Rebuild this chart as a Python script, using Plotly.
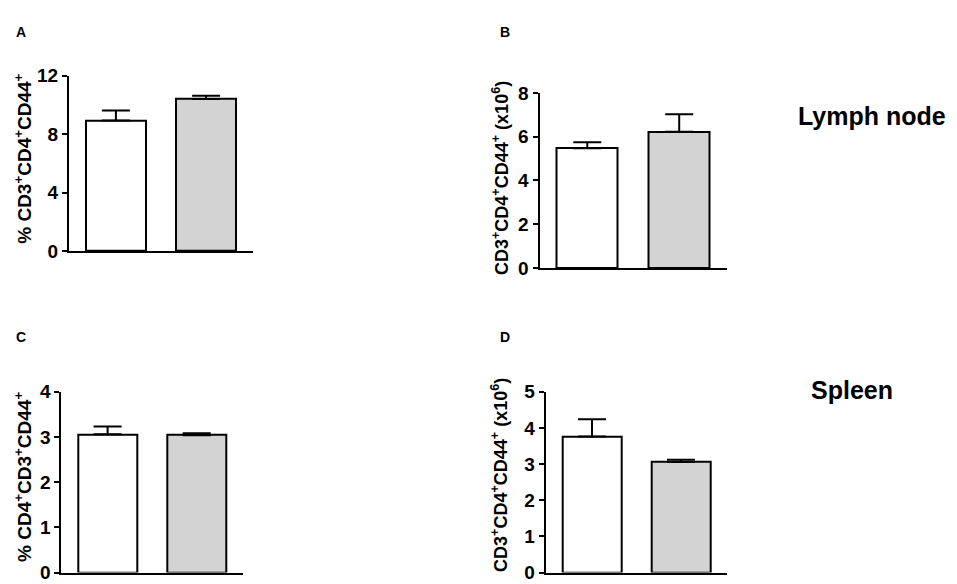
import plotly.graph_objects as go

# bar values (white = control, grey = treated)
groups = [0, 1]
bar_colors = ["white", "#d3d3d3"]

pct_ln = [8.95, 10.42]
pct_ln_err = [0.68, 0.22]
num_ln = [5.47, 6.22]
num_ln_err = [0.27, 0.80]

pct_sp = [3.06, 3.04]
pct_sp_err = [0.17, 0.04]
num_sp = [3.76, 3.06]
num_sp_err = [0.48, 0.06]

title_pct_ln = "% CD3<sup>+</sup>CD4<sup>+</sup>CD44<sup>+</sup>"
title_num = "CD3<sup>+</sup>CD4<sup>+</sup>CD44<sup>+</sup> (x10<sup>6</sup>)"
title_pct_sp = "% CD4<sup>+</sup>CD3<sup>+</sup>CD44<sup>+</sup>"

W, H = 957, 584
FONT = "Liberation Sans, Arial, sans-serif"

fig = go.Figure()

# (values, errors, axis suffix, x px range, y px range, y max, dtick)
panels = [
    (pct_ln, pct_ln_err, "", (61, 245), (242, 60), 12, 4),
    (num_ln, num_ln_err, "2", (531.5, 719), (259.3, 77.7), 8, 2),
    (pct_sp, pct_sp_err, "3", (53.3, 235), (575.3, 387.7), 4, 1),
    (num_sp, num_sp_err, "4", (537.7, 719.3), (575.3, 387.7), 5, 1),
]

layout = {}
for vals, errs, s, (x0, x1), (yb, yt), ymax, dt in panels:
    fig.add_trace(go.Bar(
        x=groups, y=vals, width=0.66,
        marker=dict(color=bar_colors, line=dict(color="black", width=2)),
        error_y=dict(type="data", array=errs, arrayminus=[0, 0], symmetric=False,
                     color="black", thickness=2, width=14),
        xaxis="x" + s, yaxis="y" + s, showlegend=False,
    ))
    layout["xaxis" + s] = dict(
        domain=[x0 / W, x1 / W], range=[-0.52, 1.52], anchor="y" + s,
        showline=True, linecolor="black", linewidth=2,
        showticklabels=False, ticks="", showgrid=False, zeroline=False,
    )
    layout["yaxis" + s] = dict(
        domain=[1 - yb / H, 1 - yt / H], range=[0, ymax], dtick=dt, anchor="x" + s,
        showline=True, linecolor="black", linewidth=2,
        ticks="outside", ticklen=5, tickwidth=2, tickcolor="black",
        tickfont=dict(family=FONT, size=19, color="black", weight="bold"),
        showgrid=False, zeroline=False,
    )

fig.update_layout(**layout)

# y axis titles, panel letters and tissue labels
notes = [
    (title_pct_ln, 15, 146, 19, -90),
    (title_num, 492, 166, 18, -90),
    (title_pct_sp, 15, 476, 19, -90),
    (title_num, 492, 474, 18, -90),
    ("A", 13, 15, 14, 0),
    ("B", 497, 15, 14, 0),
    ("C", 13, 331, 14, 0),
    ("D", 497, 331, 14, 0),
    ("Lymph node", 864, 102, 25, 0),
    ("Spleen", 844, 386, 25, 0),
]
for text, px, py, size, ang in notes:
    fig.add_annotation(
        text=text, x=px / W, y=1 - py / H, xref="paper", yref="paper",
        showarrow=False, textangle=ang, xanchor="center", yanchor="middle",
        font=dict(family=FONT, size=size, color="black", weight="bold"),
    )

fig.update_layout(
    width=W, height=H,
    margin=dict(l=0, r=0, t=0, b=0),
    paper_bgcolor="white", plot_bgcolor="white",
    bargap=0,
)

fig.write_html("out.html")
